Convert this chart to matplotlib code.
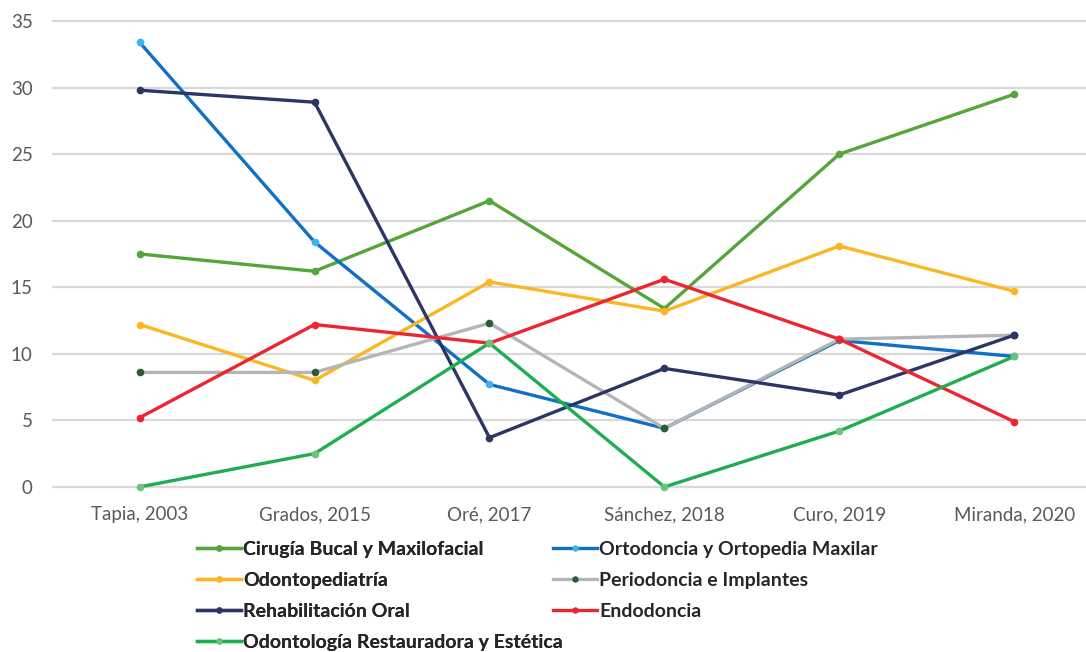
import matplotlib
matplotlib.use("Agg")
import matplotlib.pyplot as plt

plt.rcParams["font.family"] = ["Lato", "DejaVu Sans"]

autores = ["Tapia, 2003", "Grados, 2015", "Oré, 2017", "Sánchez, 2018", "Curo, 2019", "Miranda, 2020"]

cirugia = [17.5, 16.2, 21.5, 13.4, 25.0, 29.5]
ortodoncia = [33.4, 18.4, 7.7, 4.4, 11.0, 9.8]
odontopediatria = [12.2, 8.0, 15.4, 13.2, 18.1, 14.7]
periodoncia = [8.6, 8.6, 12.3, 4.4, 11.1, 11.4]
rehabilitacion = [29.8, 28.9, 3.7, 8.9, 6.9, 11.4]
endodoncia = [5.2, 12.2, 10.8, 15.6, 11.1, 4.9]
restauradora = [0.0, 2.5, 10.8, 0.0, 4.2, 9.8]

series = [
    ("Cirugía Bucal y Maxilofacial", cirugia, "#55a63a", "#55a63a"),
    ("Ortodoncia y Ortopedia Maxilar", ortodoncia, "#1170c4", "#3fb2ef"),
    ("Odontopediatría", odontopediatria, "#fbb624", "#fbb624"),
    ("Periodoncia e Implantes", periodoncia, "#b4b5b6", "#2e5a35"),
    ("Rehabilitación Oral", rehabilitacion, "#2c3566", "#2c3566"),
    ("Endodoncia", endodoncia, "#ec2530", "#ec2530"),
    ("Odontología Restauradora y Estética", restauradora, "#1fae4f", "#6cc47a"),
]

fig = plt.figure(figsize=(10.86, 6.52), dpi=100)
ax = fig.add_axes([0.048, 0.243, 0.952, 0.735])

x = list(range(len(autores)))
handles = []
for nombre, vals, color, mcolor in series:
    h, = ax.plot(x, vals, color=color, lw=2.4, marker="o", ms=4.5,
                 mfc=mcolor, mec=mcolor, label=nombre, clip_on=False, zorder=3)
    handles.append(h)

ax.set_xlim(-0.5, 5.41)
ax.set_ylim(-0.5, 35.5)
ax.set_yticks(range(0, 36, 5))
ax.set_xticks(x)
ax.set_xticklabels(autores)
ax.grid(axis="y", color="#d9d9d9", lw=1.6, zorder=0)
for s in ax.spines.values():
    s.set_visible(False)
ax.tick_params(length=0, labelsize=13.5, labelcolor="#595959")
ax.tick_params(axis="x", pad=9)
ax.tick_params(axis="y", pad=14)

# two separate legend columns, like the original
estilo = dict(loc="upper left", frameon=False, borderpad=0, borderaxespad=0,
              prop={"weight": "bold", "size": 14}, handlelength=2.3, handletextpad=0.1,
              labelspacing=0.72, markerscale=0.8, labelcolor="#262626")
col1 = [0, 2, 4, 6]
col2 = [1, 3, 5]
leg1 = fig.legend([handles[i] for i in col1], [series[i][0] for i in col1],
                  bbox_to_anchor=(0.181, 0.171), **estilo)
fig.add_artist(leg1)
fig.legend([handles[i] for i in col2], [series[i][0] for i in col2],
           bbox_to_anchor=(0.509, 0.171), **estilo)

fig.savefig("out.png", dpi=100)
